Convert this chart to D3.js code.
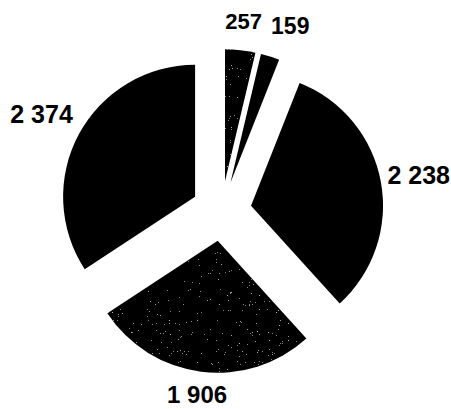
<!DOCTYPE html>
<html>
<head>
<meta charset="utf-8">
<script src="https://cdn.jsdelivr.net/npm/d3@7"></script>
<style>
  html, body { margin: 0; padding: 0; background: #fff; }
  svg { display: block; }
  text { font-family: "Liberation Sans", Arial, sans-serif; font-weight: bold; fill: #000; }
</style>
</head>
<body>
<script>
// Slice values, clockwise from 12 o'clock
const values = [257, 159, 2238, 1906, 2374];
// Which slices carry the grainy grey texture
const textured = [true, false, false, true, false];
// Label font sizes (the two thin slices use a smaller size)
const labelSizes = [22, 23, 25, 24, 25];

const width = 451, height = 409;
const cx = 221.5, cy = 211;
const radius = 132;
const explode = 30;
const labelGap = 180;
const labelPad = 9;
const edge = 1;

const fmt = d3.formatLocale({ decimal: ",", thousands: " ", grouping: [3], currency: ["", ""] }).format(",d");

const svg = d3.select("body").append("svg")
  .attr("width", width)
  .attr("height", height);

// Speckle texture: sparse grey specks over black, clipped to the slice
const defs = svg.append("defs");
const f = defs.append("filter").attr("id", "speckle")
  .attr("x", 0).attr("y", 0).attr("width", 1).attr("height", 1);
f.append("feTurbulence").attr("type", "fractalNoise").attr("baseFrequency", 1.1)
  .attr("numOctaves", 2).attr("seed", 11).attr("result", "noise");
f.append("feColorMatrix").attr("in", "noise").attr("type", "matrix")
  .attr("values", "0 0 0 0 0.55  0 0 0 0 0.55  0 0 0 0 0.55  1 0 0 0 0")
  .attr("result", "grey");
const ct = f.append("feComponentTransfer").attr("in", "grey").attr("result", "dots");
ct.append("feFuncA").attr("type", "discrete")
  .attr("tableValues", "0 0 0 0 0 0 0 0 0 0 0 0 0 0 0 0 0 0 0 0.45 0.7 0.9 1 1 1");
f.append("feComposite").attr("in", "dots").attr("in2", "SourceGraphic")
  .attr("operator", "in").attr("result", "clipped");
const merge = f.append("feMerge");
merge.append("feMergeNode").attr("in", "SourceGraphic");
merge.append("feMergeNode").attr("in", "clipped");

const pie = d3.pie().sort(null).startAngle(0).endAngle(2 * Math.PI);
const arcs = pie(values);
const arc = d3.arc().innerRadius(0).outerRadius(radius);

const g = svg.append("g").attr("transform", `translate(${cx},${cy})`);

const slice = g.selectAll("g.slice")
  .data(arcs)
  .join("g")
  .attr("class", "slice")
  .attr("transform", d => {
    const a = (d.startAngle + d.endAngle) / 2;
    return `translate(${Math.sin(a) * explode},${-Math.cos(a) * explode})`;
  });

slice.append("path")
  .attr("d", arc)
  .attr("fill", (d, i) => textured[i] ? "#060606" : "#000")
  .attr("filter", (d, i) => textured[i] ? "url(#speckle)" : null);

// Value labels outside each slice, pushed clear of a circle around the centre
const labels = g.selectAll("text.value")
  .data(arcs)
  .join("text")
  .attr("class", "value")
  .attr("text-anchor", "middle")
  .attr("dy", "0.36em")
  .style("font-size", (d, i) => labelSizes[i] + "px")
  .text(d => fmt(d.data));

const boxes = [];
labels.each(function (d, i) {
  const bb = this.getBBox();
  const a = (d.startAngle + d.endAngle) / 2;
  const dx = Math.sin(a), dy = -Math.cos(a);
  const size = labelSizes[i];
  const capH = size * 0.72;
  const dist = labelGap + 0.7 * (bb.width / 2) * Math.abs(dx) + (capH / 2 + 2) * Math.abs(dy);
  let x = dx * dist;
  let y = dy * dist;
  // keep neighbouring labels from overlapping: nudge the later one sideways
  const prev = boxes[boxes.length - 1];
  if (prev && Math.abs(prev.y - y) < capH && x - bb.width / 2 < prev.x + prev.w / 2 + labelPad) {
    x = prev.x + prev.w / 2 + labelPad + bb.width / 2;
  }
  // keep every label's full text box inside the drawing area
  const descent = size * 0.212;
  x = Math.max(edge - cx + bb.width / 2, Math.min(width - edge - cx - bb.width / 2, x));
  y = Math.max(edge - cy + capH / 2, Math.min(height - edge - cy - capH / 2 - descent, y));
  boxes.push({ x, y, w: bb.width });
  d3.select(this).attr("x", x).attr("y", y);
});
</script>
</body>
</html>
